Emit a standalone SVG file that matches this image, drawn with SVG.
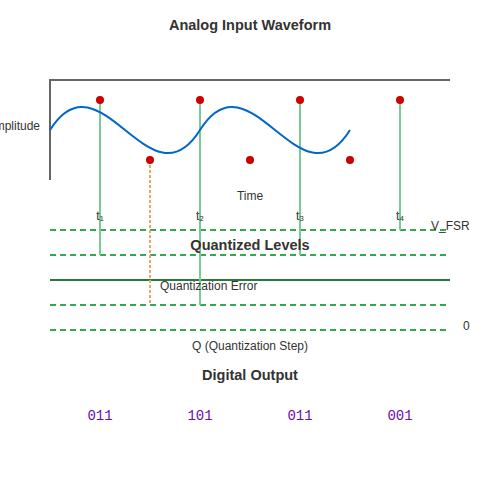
<svg xmlns="http://www.w3.org/2000/svg" width="500" height="500" viewBox="0 0 500 500">
<style>
text{font-family:"Liberation Sans",Arial,sans-serif;fill:#333;font-size:12px}
.h{font-size:14.5px;font-weight:bold;text-anchor:middle}
.c{text-anchor:middle}
.code{font-family:"Liberation Mono","DejaVu Sans Mono",monospace;font-size:14px;fill:#6a0dad;text-anchor:middle}
.lvl{stroke:#34a853;stroke-width:2;stroke-dasharray:6,4;fill:none}
.samp{stroke:#7cc995;stroke-width:2}
.dot{fill:#cc0000}
</style>
<text class="h" x="250" y="30">Analog Input Waveform</text>
<g id="axes" stroke="#666" stroke-width="2" fill="none">
<path d="M50,180 V80 H450"/>
</g>
<text x="40" y="130" text-anchor="end">Amplitude</text>
<text class="c" x="250" y="200">Time</text>
<g id="levels">
<line class="lvl" x1="50" y1="230" x2="450" y2="230"/>
<line class="lvl" x1="50" y1="255" x2="450" y2="255"/>
<line class="lvl" x1="50" y1="305" x2="450" y2="305"/>
<line class="lvl" x1="50" y1="330" x2="450" y2="330"/>
<line x1="50" y1="280" x2="450" y2="280" stroke="#2a7a3a" stroke-width="2"/>
</g>
<g id="connectors">
<line class="samp" x1="100" y1="100" x2="100" y2="255"/>
<line class="samp" x1="200" y1="100" x2="200" y2="305"/>
<line class="samp" x1="300" y1="100" x2="300" y2="255"/>
<line class="samp" x1="400" y1="100" x2="400" y2="230"/>
<line x1="150" y1="160" x2="150" y2="303" stroke="#f4a460" stroke-width="2" stroke-dasharray="3,2"/>
</g>
<g id="waveform">
<path d="M50,130 C100,50 150,210 200,130 S300,210 350,130" fill="none" stroke="#0066cc" stroke-width="2"/>
</g>
<g id="samples">
<circle class="dot" cx="100" cy="100" r="4"/>
<circle class="dot" cx="150" cy="160" r="4"/>
<circle class="dot" cx="200" cy="100" r="4"/>
<circle class="dot" cx="250" cy="160" r="4"/>
<circle class="dot" cx="300" cy="100" r="4"/>
<circle class="dot" cx="350" cy="160" r="4"/>
<circle class="dot" cx="400" cy="100" r="4"/>
</g>
<g id="tlabels">
<text class="c" x="100" y="220">t₁</text>
<text class="c" x="200" y="220">t₂</text>
<text class="c" x="300" y="220">t₃</text>
<text class="c" x="400" y="220">t₄</text>
</g>
<text x="431" y="230">V_FSR</text>
<text class="h" x="250" y="250">Quantized Levels</text>
<text x="160" y="290">Quantization Error</text>
<text x="463" y="330">0</text>
<text class="c" x="250" y="350">Q (Quantization Step)</text>
<text class="h" x="250" y="380">Digital Output</text>
<g id="codes">
<text class="code" x="100" y="420">011</text>
<text class="code" x="200" y="420">101</text>
<text class="code" x="300" y="420">011</text>
<text class="code" x="400" y="420">001</text>
</g>
</svg>
